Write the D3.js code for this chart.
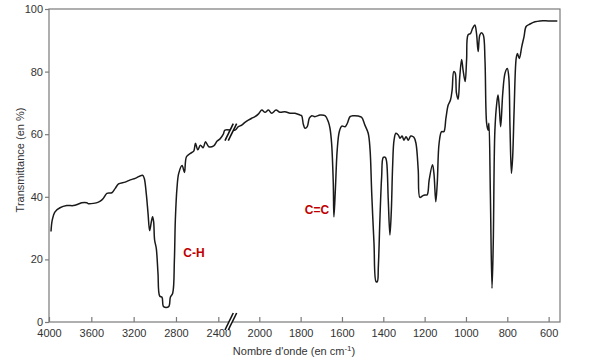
<!DOCTYPE html>
<html><head><meta charset="utf-8">
<script src="https://cdn.jsdelivr.net/npm/d3@7"></script>
<style>body{margin:0;background:#fff}svg{display:block}</style>
</head><body><svg id="c" width="604" height="362"></svg>
<script>
// Wavenumber (cm-1) and transmittance (%)
const wavenumbers = [3981,3969,3943,3896,3832,3770,3722,3690,3643,3627,3580,3533,3500,3476,3453,3406,3374,3343,3280,3232,3185,3116,3100,3081,3064,3049,3033,3021,3011,3002,2986,2970,2954,2932,2917,2869,2853,2831,2815,2806,2790,2774,2742,2720,2701,2663,2632,2616,2594,2569,2543,2521,2490,2443,2411,2383,2351,2335,2237,2205,2172,2140,2107,2074,2042,2010,1988,1972,1956,1940,1919,1900,1876,1851,1827,1803,1795,1787,1779,1768,1758,1746,1731,1706,1682,1666,1658,1650,1642,1639,1632,1623,1613,1601,1585,1574,1561,1545,1521,1505,1489,1473,1464,1456,1445,1435,1429,1424,1416,1408,1400,1390,1384,1376,1368,1361,1355,1348,1339,1327,1319,1309,1300,1290,1279,1267,1252,1242,1231,1223,1210,1199,1188,1178,1162,1155,1146,1139,1130,1118,1107,1097,1086,1075,1067,1059,1052,1046,1038,1030,1021,1014,1004,997,990,978,968,957,949,941,933,925,916,908,900,893,889,882,874,868,860,851,845,839,832,822,811,800,793,787,780,774,767,757,751,742,730,719,709,690,666,642,601,558];
const transmittance = [28.9,32.6,35.2,36.5,37.2,37.2,37.7,38.1,38.1,37.8,37.9,38.3,39,40,41.1,41.3,42.7,44.1,44.7,45.4,45.9,46.9,45.9,41.1,34.7,29.2,32,33.6,32,26.2,23.5,15.6,8.3,7.9,4.9,4.9,7.9,9.2,19.8,32.6,43,47.5,50,47.8,52.8,53.9,54.6,57.1,55,56.5,55.7,57.6,56,56.3,57.8,58.5,60,61.3,61.3,62.4,62.9,63.8,64.5,65.1,65.6,66.4,67.7,67,67.7,66.7,67.7,67,67.2,66.7,66.7,66.1,65.9,63.2,61.9,62.4,65.1,65.9,65.6,66.1,65.9,64,61.9,57,44.3,33.6,42.2,55,60.8,62.6,62.4,63.5,65.6,65.9,65.8,65.4,62.9,60.3,55,41.1,25.1,12.9,12.9,17.7,33.6,46.4,52.6,52.6,51.2,39,27.8,35.8,49.6,58.1,60.3,59.7,58.7,59.4,58.1,59.2,58.1,59.4,59,57.1,48.6,39.8,40.3,40.6,40.6,45.4,50.2,47.5,38.4,44.3,57.1,60.8,60.8,65.1,69.3,70.9,74.1,80,79.5,73.1,71.2,78.4,83.9,80.5,76.8,83.7,91.7,92.2,93.8,94.9,92.2,86.4,91.7,92.4,91.7,83.7,63.5,61.3,63.5,41.1,10.8,25.1,61.3,69.9,72.5,68.8,62.4,73.1,79.5,81,78.4,62.4,47.5,52.8,67.7,84.2,85.8,84.2,88,91.2,94.4,95.2,95.9,96.2,96.2,96.2];
const xTicks = [4000,3600,3200,2800,2400,2000,1800,1600,1400,1200,1000,800,600];
const yTicks = [0,20,40,60,80,100];
const xDomain = [4000,2400,2000,545];
const breakWn = 2290;
const annoLabels = ["C-H","C=C"];
const annoWn = [2630,1721];
const annoT = [20.9,34.5];
const xTitle = "Nombre d'onde (en cm";
const xTitleSup = "-1";
const yTitle = "Transmittance (en %)";

const L = 49, R = 560, T = 9, B = 322;
const svg = d3.select("#c");
const x = d3.scaleLinear().domain(xDomain).range([L, L+169.3, L+210.3, R]);
const y = d3.scaleLinear().domain([0,100]).range([B, T]);
const axisCol = "#7a7a7a", textCol = "#333";

// frame
svg.append("rect").attr("x",L).attr("y",T).attr("width",R-L).attr("height",B-T)
  .attr("fill","none").attr("stroke",axisCol).attr("stroke-width",1.2);

// y axis
const ya = svg.append("g").attr("transform",`translate(${L},0)`)
  .call(d3.axisLeft(y).tickValues(yTicks).tickSize(4).tickPadding(2).tickFormat(d3.format("d")));
ya.select(".domain").remove();
ya.selectAll("line").attr("stroke",axisCol).attr("stroke-width",1.2);
ya.selectAll("text").attr("fill",textCol).style("font-family","Liberation Sans, Arial, sans-serif").style("font-size","11px");

// x axis (ticks inward)
const xa = svg.append("g").attr("transform",`translate(0,${B})`)
  .call(d3.axisBottom(x).tickValues(xTicks).tickSize(-5).tickPadding(7).tickFormat(d3.format("d")));
xa.select(".domain").remove();
xa.selectAll("line").attr("stroke",axisCol).attr("stroke-width",1.2);
xa.selectAll("text").attr("fill",textCol).style("font-family","Liberation Sans, Arial, sans-serif").style("font-size","11px");

// spectrum
const pts = wavenumbers.map((w,i)=>[w,transmittance[i]]);
svg.append("path").datum(pts)
  .attr("d", d3.line().x(d=>x(d[0])).y(d=>y(d[1])).curve(d3.curveCatmullRom.alpha(0.5)))
  .attr("fill","none").attr("stroke","#1a1a1a").attr("stroke-width",1.5).attr("stroke-linejoin","round");

// break marks
const bx = x(breakWn);
function breakMark(cy, h){
  svg.append("polygon")
    .attr("points",`${bx-4.6},${cy+h} ${bx+3.7},${cy-h} ${bx+7.1},${cy-h} ${bx-1.3},${cy+h}`)
    .attr("fill","#fff");
  [[-4.6,3.7],[-1.3,7.1]].forEach(([a,b])=>{
    svg.append("line").attr("x1",bx+a).attr("y1",cy+h).attr("x2",bx+b).attr("y2",cy-h)
      .attr("stroke","#111").attr("stroke-width",1.6);
  });
}
breakMark(B-0.5, 8.5);
breakMark(y(61)+1, 8.5);

// annotations
annoLabels.forEach((lab,i)=>{
  svg.append("text").attr("x",x(annoWn[i])).attr("y",y(annoT[i]))
    .attr("text-anchor","middle").attr("fill","#c00000")
    .style("font-family","Liberation Sans, Arial, sans-serif").style("font-size","12px").style("font-weight","bold")
    .text(lab);
});

// titles
const xt = svg.append("text").attr("x",294).attr("y",355).attr("text-anchor","middle").attr("fill",textCol)
  .style("font-family","Liberation Sans, Arial, sans-serif").style("font-size","11px");
xt.append("tspan").text(xTitle);
xt.append("tspan").attr("dy",-4).style("font-size","8px").text(xTitleSup);
xt.append("tspan").attr("dy",4).text(")");

svg.append("text").attr("transform","translate(24,160) rotate(-90)").attr("text-anchor","middle").attr("fill",textCol)
  .style("font-family","Liberation Sans, Arial, sans-serif").style("font-size","11px").text(yTitle);
</script></body></html>
